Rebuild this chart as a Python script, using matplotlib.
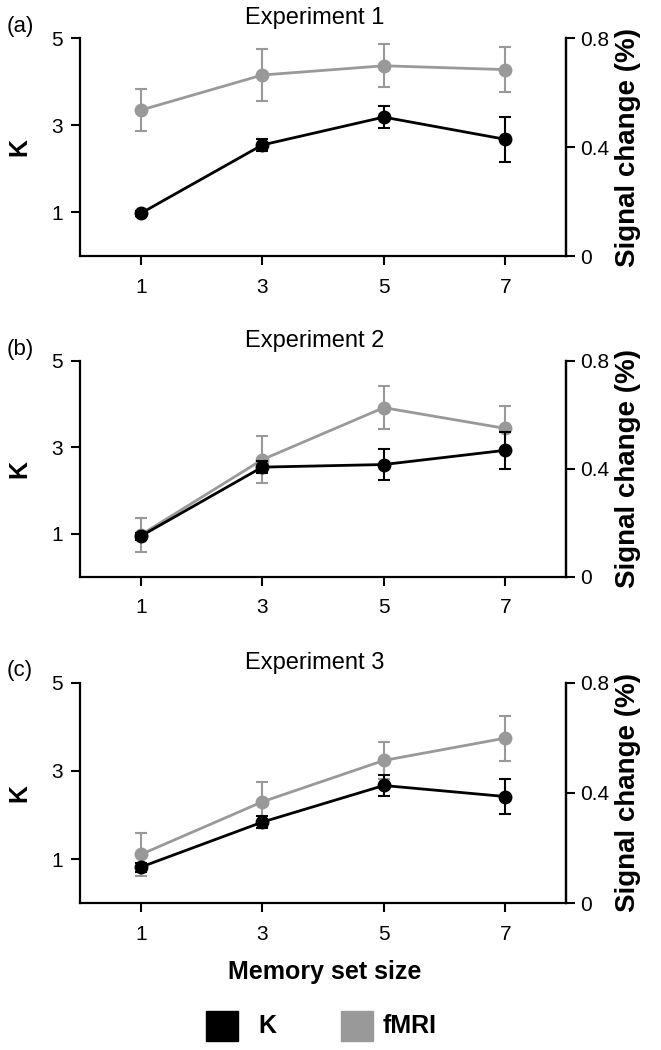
import numpy as np
import matplotlib
matplotlib.use('Agg')
import matplotlib.pyplot as plt
from matplotlib.patches import Rectangle

plt.rcParams['font.family'] = ['Liberation Sans', 'DejaVu Sans']

set_size = [1, 3, 5, 7]

# K (left axis)
k_exp1 = [0.98, 2.55, 3.19, 2.68]
k_err1 = [0.05, 0.13, 0.26, 0.52]
k_exp2 = [0.94, 2.54, 2.60, 2.93]
k_err2 = [0.08, 0.14, 0.36, 0.43]
k_exp3 = [0.82, 1.84, 2.67, 2.42]
k_err3 = [0.10, 0.14, 0.23, 0.40]

# fMRI signal change (%) (right axis)
fmri_exp1 = [0.536, 0.665, 0.699, 0.685]
fmri_err1 = [0.077, 0.096, 0.079, 0.082]
fmri_exp2 = [0.155, 0.434, 0.627, 0.550]
fmri_err2 = [0.062, 0.086, 0.080, 0.082]
fmri_exp3 = [0.177, 0.368, 0.518, 0.599]
fmri_err3 = [0.079, 0.073, 0.067, 0.082]

panels = [
    ('(a)', 'Experiment 1', k_exp1, k_err1, fmri_exp1, fmri_err1),
    ('(b)', 'Experiment 2', k_exp2, k_err2, fmri_exp2, fmri_err2),
    ('(c)', 'Experiment 3', k_exp3, k_err3, fmri_exp3, fmri_err3),
]

GRAY = '#999999'
W, H = 661, 1050

fig = plt.figure(figsize=(W / 100, H / 100), dpi=100)

# axes boxes in pixels: (top, bottom)
boxes = [(38.3, 256.0), (361.0, 576.7), (682.7, 903.3)]
left_px, right_px = 80, 566

for (tag, title, k, kerr, fm, fmerr), (top, bot) in zip(panels, boxes):
    ax = fig.add_axes([left_px / W, 1 - bot / H, (right_px - left_px) / W, (bot - top) / H])
    ax2 = ax.twinx()

    ax2.errorbar(set_size, fm, yerr=fmerr, color=GRAY, ecolor=GRAY, lw=2,
                 elinewidth=1.5, capsize=4, capthick=1.5, marker='o', ms=9)
    ax.errorbar(set_size, k, yerr=kerr, color='black', ecolor='black', lw=2,
                elinewidth=1.5, capsize=4, capthick=1.5, marker='o', ms=9)
    # K on top of fMRI
    ax.set_zorder(ax2.get_zorder() + 1)
    ax.patch.set_visible(False)

    ax.set_xlim(0, 8)
    ax.set_ylim(0, 5)
    ax2.set_ylim(0, 0.8)
    ax.set_xticks(set_size)
    ax.set_yticks([1, 3, 5])
    ax2.set_yticks([0, 0.4, 0.8])
    ax2.set_yticklabels(['0', '0.4', '0.8'])

    for a in (ax, ax2):
        a.spines['top'].set_visible(False)
        for s in a.spines.values():
            s.set_linewidth(1.6)
        a.tick_params(labelsize=15, length=6.5, width=1.5, pad=4)
    ax.tick_params(axis='y', pad=6)
    ax.tick_params(axis='x', pad=9)
    ax2.spines['left'].set_visible(False)
    ax2.spines['bottom'].set_visible(False)

    ax.set_ylabel('K', fontsize=18, fontweight='bold', labelpad=14)
    ax2.set_ylabel('Signal change (%)', fontsize=20, fontweight='bold', labelpad=4)

    fig.text(7 / W, 1 - (top - 12) / H, tag, fontsize=16, ha='left', va='center')
    fig.text(315 / W, 1 - (top - 20) / H, title, fontsize=17, ha='center', va='center')

fig.text(325 / W, 1 - 972 / H, 'Memory set size', fontsize=18, fontweight='bold',
         ha='center', va='center')

# legend
fig.patches.append(Rectangle((206 / W, 1 - 1041 / H), 32 / W, 30 / H,
                             transform=fig.transFigure, color='black'))
fig.text(258 / W, 1 - 1026 / H, 'K', fontsize=18, fontweight='bold', va='center')
fig.patches.append(Rectangle((341 / W, 1 - 1041 / H), 32 / W, 30 / H,
                             transform=fig.transFigure, color=GRAY))
fig.text(383 / W, 1 - 1026 / H, 'fMRI', fontsize=18, fontweight='bold', va='center')

fig.savefig('out.png', dpi=100, facecolor='white')
